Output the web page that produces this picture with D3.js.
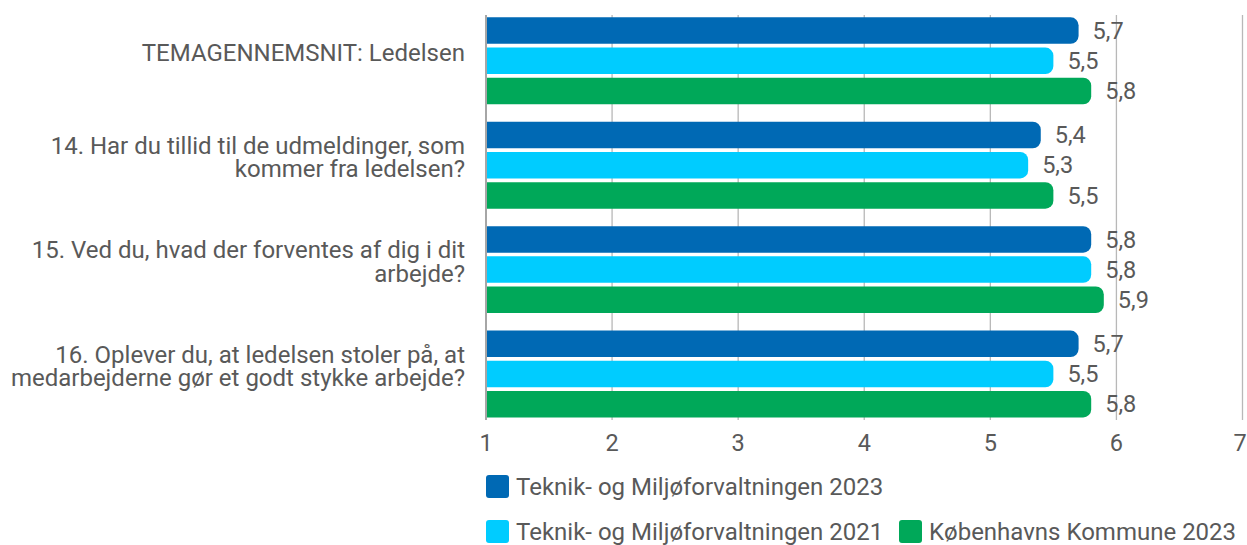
<!DOCTYPE html>
<html>
<head>
<meta charset="utf-8">
<script src="https://cdn.jsdelivr.net/npm/d3@7"></script>
<style>
  body { margin: 0; background: #fff; }
  text { font-family: Roboto, "Noto Sans", sans-serif; fill: #595959; }
</style>
</head>
<body>
<script>
// data
const questions = [
  ['TEMAGENNEMSNIT: Ledelsen'],
  ['14. Har du tillid til de udmeldinger, som', 'kommer fra ledelsen?'],
  ['15. Ved du, hvad der forventes af dig i dit', 'arbejde?'],
  ['16. Oplever du, at ledelsen stoler på, at', 'medarbejderne gør et godt stykke arbejde?']
];
const seriesNames = ['Teknik- og Miljøforvaltningen 2023', 'Teknik- og Miljøforvaltningen 2021', 'Københavns Kommune 2023'];
const tmf2023 = [5.7, 5.4, 5.8, 5.7];
const tmf2021 = [5.5, 5.3, 5.8, 5.5];
const kk2023 = [5.8, 5.5, 5.9, 5.8];
const ticks = [1, 2, 3, 4, 5, 6, 7];

const seriesColors = ['#0069b4', '#00ccff', '#00a859'];
const width = 1247, height = 545;
const plotLeft = 486, plotRight = 1242.5, plotTop = 15, plotBottom = 420;

const svg = d3.select('body').append('svg')
  .attr('width', width)
  .attr('height', height);

const xScale = d3.scaleLinear().domain([1, 7]).range([plotLeft, plotRight]);

const yScale = d3.scaleBand()
  .domain(d3.range(questions.length))
  .range([8.6, 426.2])
  .paddingInner(0.168)
  .paddingOuter(0.084);

const ySub = d3.scaleBand()
  .domain(d3.range(seriesNames.length))
  .range([0, yScale.bandwidth()])
  .paddingInner(0.122);

// gridlines
svg.append('g')
  .selectAll('line')
  .data(ticks.slice(1))
  .enter()
  .append('line')
  .attr('x1', d => xScale(d))
  .attr('x2', d => xScale(d))
  .attr('y1', plotTop)
  .attr('y2', plotBottom)
  .attr('stroke', '#b8b8b8')
  .attr('stroke-width', 1.3);

// bars
const allSeries = [tmf2023, tmf2021, kk2023];
const rows = [];
questions.forEach((q, i) => {
  allSeries.forEach((s, j) => rows.push({q: i, s: j, v: s[i]}));
});

function barPath(x0, x1, y0, h, r) {
  r = Math.min(r, h / 2, x1 - x0);
  return `M${x0},${y0}H${x1 - r}A${r},${r} 0 0 1 ${x1},${y0 + r}V${y0 + h - r}A${r},${r} 0 0 1 ${x1 - r},${y0 + h}H${x0}Z`;
}

svg.append('g')
  .selectAll('path')
  .data(rows)
  .enter()
  .append('path')
  .attr('d', d => barPath(xScale(1), xScale(d.v), yScale(d.q) + ySub(d.s), ySub.bandwidth(), 8))
  .attr('fill', d => seriesColors[d.s]);

// value labels
svg.append('g')
  .selectAll('text')
  .data(rows)
  .enter()
  .append('text')
  .attr('x', d => xScale(d.v) + 14)
  .attr('y', d => yScale(d.q) + ySub(d.s) + ySub.bandwidth() / 2)
  .attr('dy', '0.35em')
  .attr('font-size', 23.5)
  .text(d => d3.format('.1f')(d.v).replace('.', ','));

// vertical axis line
svg.append('line')
  .attr('x1', xScale(1))
  .attr('x2', xScale(1))
  .attr('y1', plotTop)
  .attr('y2', plotBottom)
  .attr('stroke', '#a6a6a6')
  .attr('stroke-width', 2);

// x tick labels
svg.append('g')
  .selectAll('text')
  .data(ticks)
  .enter()
  .append('text')
  .attr('x', d => Math.min(xScale(d), 1240))
  .attr('y', 443)
  .attr('dy', '0.35em')
  .attr('text-anchor', 'middle')
  .attr('font-size', 23.5)
  .text(d => d);

// category labels
const lineH = 23.5;
const cat = svg.append('g')
  .selectAll('text')
  .data(questions)
  .enter()
  .append('text')
  .attr('text-anchor', 'end')
  .attr('font-size', 24)
  .attr('y', (d, i) => yScale(i) + yScale.bandwidth() / 2 - (d.length - 1) * lineH / 2 + 0.5)
  .attr('dy', '0.35em');
cat.selectAll('tspan')
  .data(d => d)
  .enter()
  .append('tspan')
  .attr('x', 465)
  .attr('dy', (d, i) => i === 0 ? 0 : lineH)
  .text(d => d);

// legend
const legendItems = [
  {x: 486, y: 475},
  {x: 486, y: 520},
  {x: 899, y: 520}
];
const legend = svg.append('g')
  .selectAll('g')
  .data(seriesNames)
  .enter()
  .append('g')
  .attr('transform', (d, i) => `translate(${legendItems[i].x},${legendItems[i].y})`);
legend.append('rect')
  .attr('width', 23)
  .attr('height', 23)
  .attr('rx', 3)
  .attr('fill', (d, i) => seriesColors[i]);
legend.append('text')
  .attr('x', 30)
  .attr('y', 12)
  .attr('dy', '0.35em')
  .attr('font-size', 24)
  .text(d => d);
</script>
</body>
</html>
